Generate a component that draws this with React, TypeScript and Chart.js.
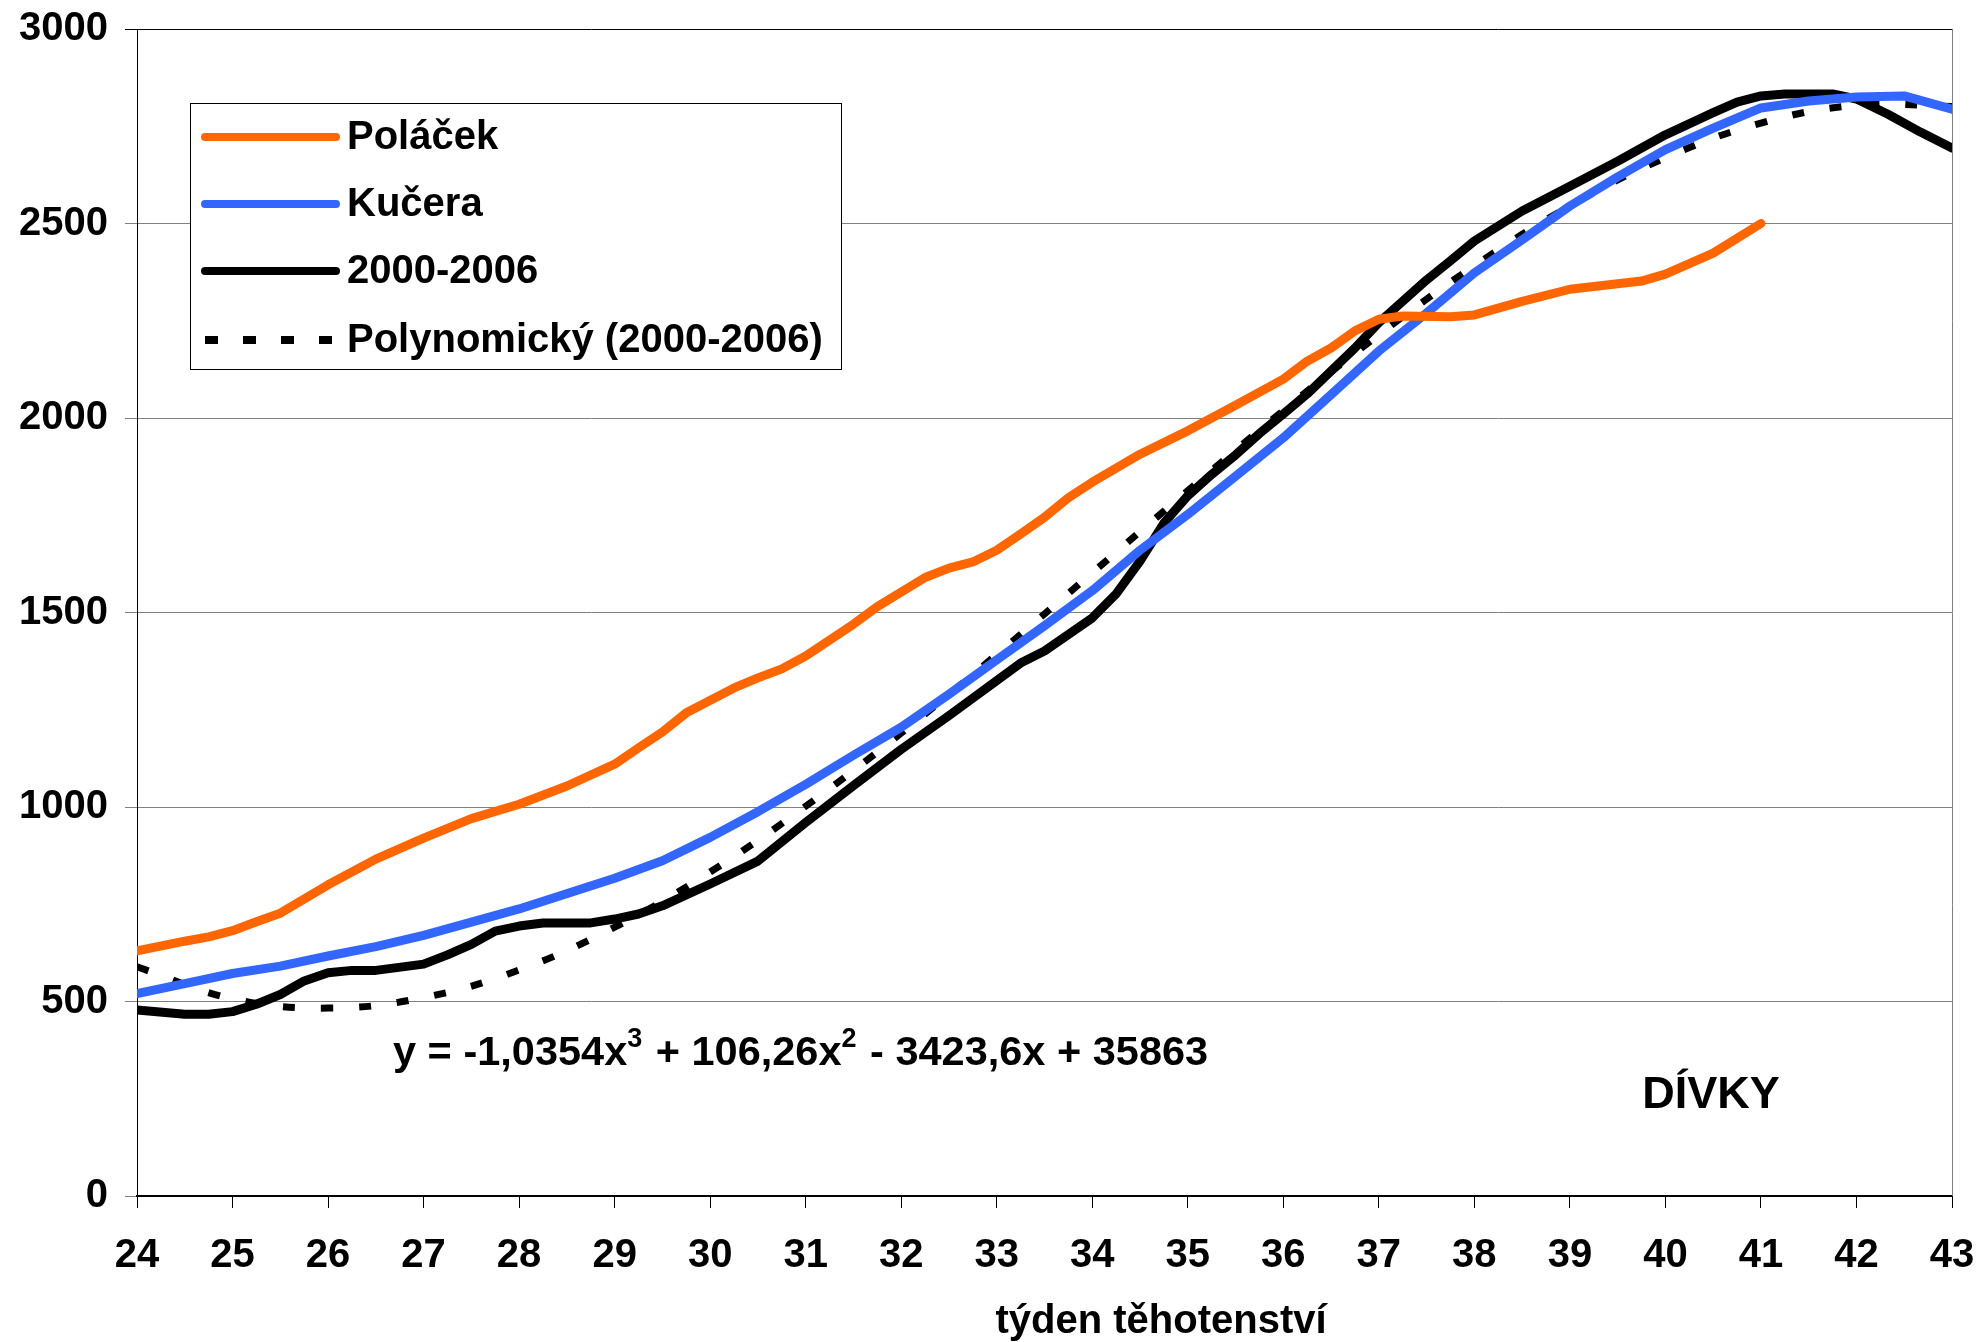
import React, { useEffect, useRef } from "react";
import { Chart, registerables } from "chart.js";

Chart.register(...registerables);

const FONT = '"Liberation Sans", Arial, Helvetica, sans-serif';

// Poláček
const polacekWeeks = [24, 24.5, 24.75, 25, 25.25, 25.5, 26, 26.5, 27, 27.5, 28, 28.5, 29, 29.25, 29.5, 29.75, 30.25, 30.5, 30.75, 31, 31.5, 31.75, 32.25, 32.5, 32.75, 33, 33.25, 33.5, 33.75, 34, 34.5, 35, 35.5, 36, 36.25, 36.5, 36.75, 37, 37.25, 37.75, 38, 38.5, 39, 39.75, 40, 40.5, 41];
const polacekValues = [630, 655, 666, 682, 705, 727, 800, 866, 920, 970, 1007, 1054, 1110, 1152, 1193, 1242, 1306, 1332, 1355, 1388, 1470, 1515, 1590, 1614, 1630, 1660, 1702, 1745, 1795, 1835, 1907, 1967, 2033, 2100, 2146, 2180, 2224, 2254, 2262, 2260, 2265, 2300, 2331, 2352, 2370, 2424, 2500];

// Kučera
const kuceraWeeks = [24, 24.5, 25, 25.5, 26, 26.5, 27, 28, 29, 29.5, 30, 30.5, 31, 31.5, 32, 32.5, 33, 33.5, 34, 34.5, 35, 35.5, 36, 36.5, 37, 37.5, 38, 38.5, 39, 39.5, 40, 40.5, 41, 41.5, 42, 42.5, 43];
const kuceraValues = [520, 546, 572, 591, 617, 641, 670, 738, 817, 862, 922, 988, 1058, 1133, 1205, 1290, 1378, 1466, 1556, 1660, 1752, 1850, 1949, 2060, 2172, 2270, 2373, 2458, 2545, 2620, 2690, 2745, 2797, 2815, 2825, 2828, 2794];

// 2000-2006
const recentWeeks = [24, 24.5, 24.75, 25, 25.25, 25.5, 25.75, 26, 26.25, 26.5, 27, 27.25, 27.5, 27.75, 28, 28.25, 28.75, 29, 29.25, 29.5, 30, 30.5, 31, 31.5, 32, 32.5, 33, 33.25, 33.5, 34, 34.25, 34.5, 34.75, 35, 35.25, 35.5, 35.75, 36, 36.25, 36.5, 36.75, 37, 37.5, 37.75, 38, 38.5, 39, 39.5, 40, 40.5, 40.75, 41, 41.25, 41.75, 42, 42.33, 42.67, 43];
const recentValues = [478, 467, 467, 474, 493, 518, 553, 574, 580, 580, 596, 620, 647, 681, 694, 702, 702, 712, 725, 746, 802, 861, 960, 1055, 1148, 1235, 1325, 1370, 1401, 1486, 1548, 1632, 1730, 1800, 1855, 1905, 1960, 2010, 2062, 2121, 2180, 2245, 2355, 2404, 2455, 2532, 2596, 2660, 2728, 2785, 2812, 2828, 2833, 2833, 2820, 2781, 2735, 2694];

// Polynomický (2000-2006) trend, read at whole weeks
const trendWeeks = [24, 25, 26, 27, 28, 29, 30, 31, 32, 33, 34, 35, 36, 37, 38, 39, 40, 41, 42, 43];
const trendValues = [589, 507, 483, 510, 581, 691, 833, 1002, 1190, 1392, 1602, 1813, 2019, 2214, 2391, 2545, 2669, 2758, 2804, 2801];

const seriesLabels = ["Poláček", "Kučera", "2000-2006", "Polynomický (2000-2006)"];
const seriesColors = ["#FF6600", "#3366FF", "#000000", "#000000"];

const yTicks = [0, 500, 1000, 1500, 2000, 2500, 3000];
const xTitle = "týden těhotenství";
const equationParts = [
  { t: "y = -1,0354x", sup: false },
  { t: "3", sup: true },
  { t: " + 106,26x", sup: false },
  { t: "2", sup: true },
  { t: " - 3423,6x + 35863", sup: false },
];
const cornerLabel = "DÍVKY";

const toPoints = (xs: number[], ys: number[]) => xs.map((x, i) => ({ x, y: ys[i] }));

const overlayPlugin = {
  id: "overlay",
  beforeDatasetsDraw(chart: any) {
    const { ctx, chartArea } = chart;
    ctx.save();
    ctx.strokeStyle = "#808080";
    ctx.lineWidth = 1;
    ctx.beginPath();
    ctx.moveTo(Math.round(chartArea.right) + 0.5, chartArea.top);
    ctx.lineTo(Math.round(chartArea.right) + 0.5, chartArea.bottom);
    ctx.stroke();
    ctx.restore();
  },
  afterDatasetsDraw(chart: any) {
    const { ctx } = chart;
    ctx.save();
    // legend box
    const bx = 190.5, by = 103.5, bw = 651, bh = 266;
    ctx.fillStyle = "#ffffff";
    ctx.fillRect(bx, by, bw, bh);
    ctx.strokeStyle = "#000000";
    ctx.lineWidth = 1;
    ctx.strokeRect(bx, by, bw, bh);
    const rowY = [137, 204, 271, 340];
    ctx.font = `bold 40px ${FONT}`;
    ctx.textBaseline = "middle";
    ctx.textAlign = "left";
    seriesLabels.forEach((label, i) => {
      const y = rowY[i];
      ctx.beginPath();
      ctx.strokeStyle = seriesColors[i];
      ctx.lineWidth = 8;
      if (i === 3) {
        ctx.setLineDash([13, 25]);
        ctx.lineCap = "butt";
        ctx.moveTo(205, y);
        ctx.lineTo(338, y);
      } else {
        ctx.setLineDash([]);
        ctx.lineCap = "round";
        ctx.moveTo(205, y);
        ctx.lineTo(336, y);
      }
      ctx.stroke();
      ctx.setLineDash([]);
      ctx.fillStyle = "#000000";
      ctx.fillText(label, 347, y + 1);
    });

    // equation
    ctx.textBaseline = "alphabetic";
    let x = 393;
    const base = 1065;
    equationParts.forEach((p) => {
      ctx.font = p.sup ? `bold 27px ${FONT}` : `bold 41.5px ${FONT}`;
      ctx.fillText(p.t, x, p.sup ? base - 18 : base);
      x += ctx.measureText(p.t).width + (p.sup ? 2 : 0);
    });

    // corner label
    ctx.font = `bold 45px ${FONT}`;
    ctx.textAlign = "center";
    ctx.textBaseline = "middle";
    ctx.fillText(cornerLabel, 1711, 1096);

    // x title
    ctx.font = `bold 40px ${FONT}`;
    ctx.fillText(xTitle, 1161, 1322);
    ctx.restore();
  },
};

export default function App() {
  const ref = useRef<HTMLCanvasElement | null>(null);
  useEffect(() => {
    document.body.style.margin = "0";
    const canvas = ref.current;
    if (!canvas) return;
    const chart = new Chart(canvas, {
      type: "line",
      data: {
        datasets: [
          {
            label: seriesLabels[0],
            data: toPoints(polacekWeeks, polacekValues),
            borderColor: seriesColors[0],
            borderWidth: 9,
            pointRadius: 0,
            tension: 0,
            borderCapStyle: "round",
            borderJoinStyle: "round",
          },
          {
            label: seriesLabels[1],
            data: toPoints(kuceraWeeks, kuceraValues),
            borderColor: seriesColors[1],
            borderWidth: 9,
            pointRadius: 0,
            tension: 0,
            borderCapStyle: "round",
            borderJoinStyle: "round",
          },
          {
            label: seriesLabels[3],
            data: toPoints(trendWeeks, trendValues),
            borderColor: seriesColors[3],
            borderWidth: 7,
            borderDash: [12, 26],
            pointRadius: 0,
            tension: 0.4,
            borderCapStyle: "butt",
          },
          {
            label: seriesLabels[2],
            data: toPoints(recentWeeks, recentValues),
            borderColor: seriesColors[2],
            borderWidth: 9,
            pointRadius: 0,
            tension: 0,
            borderCapStyle: "round",
            borderJoinStyle: "round",
          },
        ],
      },
      options: {
        animation: false,
        responsive: false,
        devicePixelRatio: 1,
        layout: { padding: { top: 29, right: 25, left: 0, bottom: 0 } },
        plugins: { legend: { display: false }, tooltip: { enabled: false } },
        scales: {
          x: {
            type: "linear",
            min: 24,
            max: 43,
            afterFit: (s: any) => {
              s.height = 146;
              s.paddingLeft = 0;
              s.paddingRight = 0;
            },
            ticks: {
              stepSize: 1,
              autoSkip: false,
              maxRotation: 0,
              padding: 24,
              color: "#000",
              font: { family: FONT, size: 40, weight: "bold" },
            },
            grid: {
              drawOnChartArea: false,
              drawTicks: true,
              tickLength: 12,
              color: "#000",
            },
            border: { color: "#000", width: 2 },
          },
          y: {
            min: 0,
            max: 3000,
            afterFit: (s: any) => {
              s.width = 137;
              s.paddingTop = 0;
              s.paddingBottom = 0;
            },
            afterBuildTicks: (s: any) => {
              s.ticks = yTicks.map((v) => ({ value: v }));
            },
            ticks: {
              padding: 17,
              color: "#000",
              font: { family: FONT, size: 40, weight: "bold" },
              callback: (v: any) => String(v),
            },
            grid: {
              tickLength: 12,
              color: (c: any) => (c.tick && c.tick.value === 3000 ? "#000" : "#808080"),
              lineWidth: 1,
            },
            border: { color: "#000", width: 1 },
          },
        },
      },
      plugins: [overlayPlugin],
    });
    return () => chart.destroy();
  }, []);
  return (
    <div style={{ width: 1977, height: 1342 }}>
      <canvas ref={ref} width={1977} height={1342} style={{ display: "block" }} />
    </div>
  );
}
